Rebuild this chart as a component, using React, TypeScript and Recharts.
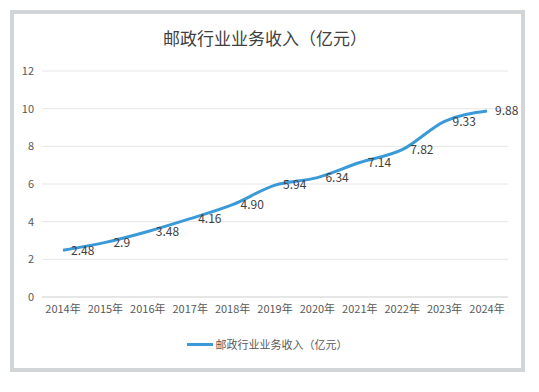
import { CartesianGrid, LabelList, Legend, Line, LineChart, XAxis, YAxis } from 'recharts';

const years = ['2014年', '2015年', '2016年', '2017年', '2018年', '2019年', '2020年', '2021年', '2022年', '2023年', '2024年'];
const revenue = [2.48, 2.9, 3.48, 4.16, 4.9, 5.94, 6.34, 7.14, 7.82, 9.33, 9.88];
const revenueLabels = ['2.48', '2.9', '3.48', '4.16', '4.90', '5.94', '6.34', '7.14', '7.82', '9.33', '9.88'];
const yTicks = [0, 2, 4, 6, 8, 10, 12];

const seriesName = '邮政行业业务收入（亿元）';
const FONT = '"Noto Sans CJK SC", "Noto Sans", sans-serif';

const data = years.map((year, i) => ({ year, value: revenue[i], label: revenueLabels[i] }));

function LegendContent() {
  return (
    <div
      style={{
        display: 'flex',
        alignItems: 'center',
        justifyContent: 'center',
        paddingLeft: 14,
        fontFamily: FONT,
        fontSize: 11,
        color: '#595959',
      }}
    >
      <span style={{ display: 'inline-block', width: 26, height: 3, background: '#3A9AD9', marginRight: 3 }} />
      <span>{seriesName}</span>
    </div>
  );
}

export default function App() {
  return (
    <div style={{ position: 'absolute', left: 0, top: 0, width: 539, height: 392, background: '#fff', fontFamily: FONT }}>
      <div
        style={{
          position: 'absolute',
          left: 10,
          top: 10,
          width: 507,
          height: 354,
          border: '4px solid #d2d5d8',
          background: '#fff',
        }}
      />
      <div
        style={{
          position: 'absolute',
          left: 0,
          top: 26,
          width: 530,
          textAlign: 'center',
          fontSize: 17,
          color: '#404040',
          lineHeight: '24px',
        }}
      >
        {seriesName}
      </div>
      <div style={{ position: 'absolute', left: 0, top: 0 }}>
        <LineChart width={539} height={392} data={data} margin={{ top: 71, right: 31, left: 12, bottom: 45 }}>
          <CartesianGrid stroke="#e6e6e6" vertical={false} />
          <XAxis
            dataKey="year"
            axisLine={{ stroke: '#d9d9d9' }}
            tickLine={false}
            tick={{ fill: '#595959', fontSize: 11, fontFamily: FONT }}
            interval={0}
            padding={{ left: 21, right: 21 }}
            height={30}
          />
          <YAxis
            domain={[0, 12]}
            ticks={yTicks}
            axisLine={false}
            tickLine={false}
            width={30}
            tick={{ fill: '#595959', fontSize: 11, fontFamily: FONT }}
          />
          <Legend content={<LegendContent />} verticalAlign="bottom" height={20} wrapperStyle={{ bottom: 36 }} />
          <Line
            type="monotone"
            dataKey="value"
            name={seriesName}
            stroke="#3A9AD9"
            strokeWidth={3}
            dot={false}
            activeDot={false}
            isAnimationActive={false}
          >
            <LabelList dataKey="label" position="right" offset={8} fill="#404040" fontSize={12} fontFamily={FONT} />
          </Line>
        </LineChart>
      </div>
    </div>
  );
}
